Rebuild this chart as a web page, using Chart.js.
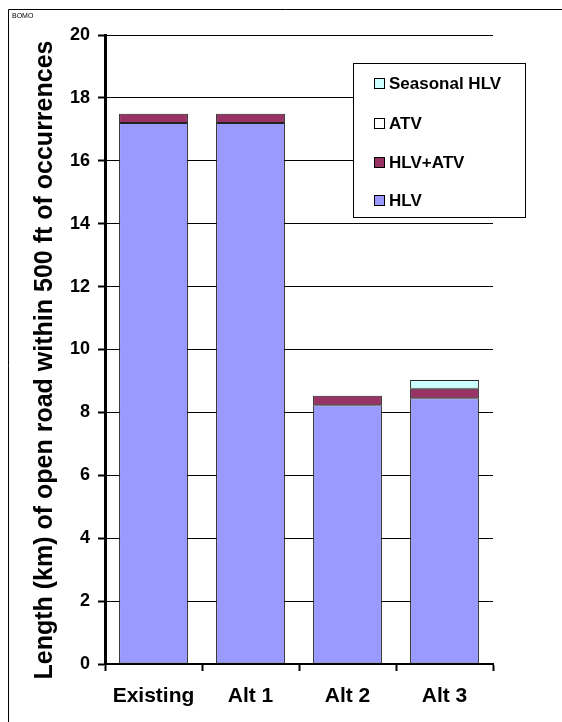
<!DOCTYPE html>
<html>
<head>
<meta charset="utf-8">
<script src="https://cdn.jsdelivr.net/npm/chart.js@4/dist/chart.umd.min.js"></script>
<style>
  html, body { margin: 0; padding: 0; background: #fff; }
  #wrap { width: 562px; height: 722px; position: relative; }
</style>
</head>
<body>
<div id="wrap"><canvas id="c" width="562" height="722"></canvas></div>
<script>
// Road length (km) within 500 ft of occurrences, by alternative
const categories = ['Existing', 'Alt 1', 'Alt 2', 'Alt 3'];
const hlv = [17.2, 17.2, 8.23, 8.45];
const hlvAtv = [0.3, 0.3, 0.3, 0.3];
const atv = [0, 0, 0, 0];
const seasonalHlv = [0, 0, 0, 0.28];
const yTicks = [0, 2, 4, 6, 8, 10, 12, 14, 16, 18, 20];

const FONT = '"Liberation Sans", Arial, Helvetica, sans-serif';
const yTitle = 'Length (km) of open road within 500 ft of occurrences';

// Frame, corner tag, rotated axis title and boxed legend
const decor = {
  id: 'decor',
  beforeDraw(chart) {
    const ctx = chart.ctx;
    ctx.save();
    ctx.fillStyle = '#fff';
    ctx.fillRect(0, 0, chart.width, chart.height);
    ctx.strokeStyle = '#000';
    ctx.lineWidth = 1;
    ctx.beginPath();
    ctx.moveTo(8.5, chart.height);
    ctx.lineTo(8.5, 9.5);
    ctx.lineTo(chart.width, 9.5);
    ctx.stroke();
    ctx.fillStyle = '#000';
    ctx.font = '7px ' + FONT;
    ctx.textBaseline = 'alphabetic';
    ctx.fillText('BOMO', 12, 18);
    ctx.restore();
  },
  afterDraw(chart) {
    const ctx = chart.ctx;
    ctx.save();
    // axis title
    ctx.translate(45, 360);
    ctx.rotate(-Math.PI / 2);
    ctx.fillStyle = '#000';
    ctx.font = 'bold 25px ' + FONT;
    ctx.textAlign = 'center';
    ctx.textBaseline = 'middle';
    ctx.fillText(yTitle, 0, 0);
    ctx.restore();

    // legend box, drawn top-down in reverse stacking order
    ctx.save();
    const lx = 353, ly = 63, lw = 172, lh = 154;
    ctx.fillStyle = '#fff';
    ctx.fillRect(lx, ly, lw, lh);
    ctx.strokeStyle = '#000';
    ctx.lineWidth = 1;
    ctx.strokeRect(lx + 0.5, ly + 0.5, lw, lh);
    const rows = [83, 123, 162, 200];
    const ds = chart.data.datasets.slice().reverse();
    ctx.font = 'bold 17px ' + FONT;
    ctx.textBaseline = 'middle';
    ds.forEach((d, i) => {
      const cy = rows[i];
      ctx.fillStyle = d.backgroundColor;
      ctx.fillRect(374, cy - 5, 11, 11);
      ctx.strokeStyle = '#000';
      ctx.strokeRect(374.5, cy - 4.5, 10, 10);
      ctx.fillStyle = '#000';
      ctx.fillText(d.label, 389, cy + 1);
    });
    ctx.restore();
  }
};

new Chart(document.getElementById('c'), {
  type: 'bar',
  data: {
    labels: categories,
    datasets: [
      { label: 'HLV', data: hlv, backgroundColor: '#9999FF' },
      { label: 'HLV+ATV', data: hlvAtv, backgroundColor: '#993366' },
      { label: 'ATV', data: atv, backgroundColor: '#FFFFFF' },
      { label: 'Seasonal HLV', data: seasonalHlv, backgroundColor: '#CCFFFF' }
    ].map(d => Object.assign(d, {
      borderColor: '#222',
      borderWidth: 1,
      borderSkipped: false,
      barPercentage: 0.71,
      categoryPercentage: 1
    }))
  },
  options: {
    responsive: false,
    animation: false,
    devicePixelRatio: 1,
    layout: { padding: { top: 35, right: 69, left: 0, bottom: 0 } },
    plugins: {
      legend: { display: false },
      tooltip: { enabled: false }
    },
    scales: {
      x: {
        stacked: true,
        grid: {
          offset: true,
          drawOnChartArea: false,
          drawTicks: true,
          tickLength: 7,
          tickWidth: 2,
          tickColor: '#000',
          color: '#000'
        },
        border: { display: true, color: '#000', width: 2 },
        ticks: {
          color: '#000',
          font: { family: FONT, size: 21, weight: 'bold' },
          padding: 13,
          maxRotation: 0
        },
        afterFit(s) { s.height = 58; }
      },
      y: {
        stacked: true,
        min: 0,
        max: 20,
        afterBuildTicks(s) { s.ticks = yTicks.map(v => ({ value: v })); },
        grid: {
          color: '#000',
          lineWidth: 1,
          drawTicks: true,
          tickLength: 7,
          tickWidth: 2,
          tickColor: '#000'
        },
        border: { display: true, color: '#000', width: 3 },
        ticks: {
          color: '#000',
          font: { family: FONT, size: 18, weight: 'bold' },
          padding: 8
        },
        afterFit(s) { s.width = 105; }
      }
    }
  },
  plugins: [decor]
});
</script>
</body>
</html>
